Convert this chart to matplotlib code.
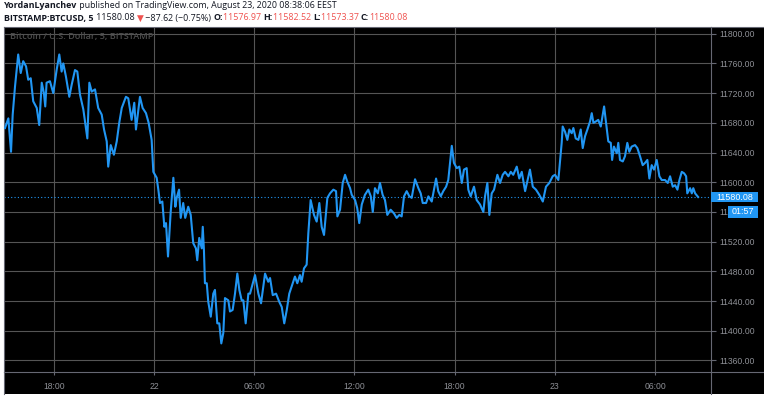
import matplotlib
matplotlib.use('Agg')
import matplotlib.pyplot as plt
from matplotlib.patches import Rectangle
from matplotlib.lines import Line2D
from matplotlib.transforms import blended_transform_factory

# BTCUSD 5-minute close, hours relative to Aug 22 00:00 (EEST)
hours = [-8.92, -8.72, -8.56, -8.46, -8.32, -8.13, -7.98, -7.83, -7.66, -7.53,
         -7.38, -7.23, -7.02, -6.87, -6.72, -6.59, -6.51, -6.43, -6.23, -6.03,
         -5.83, -5.67, -5.53, -5.43, -5.27, -5.07, -4.93, -4.73, -4.59, -4.43,
         -4.23, -3.99, -3.87, -3.73, -3.53, -3.34, -3.13, -2.99, -2.83, -2.74,
         -2.59, -2.40, -2.23, -2.08, -1.93, -1.68, -1.54, -1.34, -1.18, -1.08,
         -0.84, -0.68, -0.48, -0.32, -0.14, -0.04, 0.16, 0.26, 0.36, 0.50,
         0.62, 0.72, 0.84, 1.00, 1.16, 1.28, 1.36, 1.50, 1.60, 1.75,
         1.87, 2.05, 2.20, 2.35, 2.51, 2.59, 2.71, 2.86, 2.92, 2.99,
         3.05, 3.16, 3.25, 3.40, 3.55, 3.65, 3.79, 3.91, 4.03, 4.15,
         4.25, 4.45, 4.55, 4.71, 4.85, 4.99, 5.11, 5.25, 5.35, 5.49,
         5.65, 5.75, 6.05, 6.25, 6.41, 6.65, 6.84, 6.95, 7.11, 7.31,
         7.50, 7.65, 7.80, 7.95, 8.10, 8.31, 8.44, 8.58, 8.74, 8.84,
         8.98, 9.14, 9.24, 9.38, 9.58, 9.74, 9.90, 10.04, 10.18, 10.38,
         10.54, 10.74, 10.90, 10.98, 11.14, 11.30, 11.44, 11.57, 11.74, 11.84,
         12.04, 12.17, 12.29, 12.44, 12.63, 12.83, 12.98, 13.10, 13.23, 13.40,
         13.53, 13.69, 13.83, 13.97, 14.17, 14.37, 14.53, 14.69, 14.83, 14.97,
         15.13, 15.29, 15.43, 15.63, 15.83, 15.97, 16.09, 16.29, 16.43, 16.63,
         16.72, 16.89, 17.02, 17.17, 17.32, 17.49, 17.62, 17.83, 17.96, 18.13,
         18.28, 18.43, 18.56, 18.72, 18.82, 18.96, 19.16, 19.32, 19.52, 19.72,
         19.82, 19.96, 20.08, 20.22, 20.36, 20.56, 20.72, 20.88, 21.02, 21.22,
         21.36, 21.51, 21.72, 21.87, 22.02, 22.22, 22.35, 22.51, 22.68, 22.87,
         23.07, 23.28, 23.47, 23.67, 23.87, 24.01, 24.21, 24.31, 24.41, 24.47,
         24.61, 24.75, 24.87, 25.01, 25.11, 25.25, 25.41, 25.55, 25.67, 25.81,
         25.95, 26.11, 26.21, 26.31, 26.47, 26.60, 26.75, 26.95, 27.07, 27.20,
         27.35, 27.43, 27.54, 27.71, 27.80, 27.90, 28.07, 28.20, 28.34, 28.46,
         28.60, 28.80, 28.94, 29.10, 29.26, 29.40, 29.54, 29.66, 29.80, 29.94,
         30.10, 30.26, 30.40, 30.60, 30.76, 30.90, 31.06, 31.20, 31.34, 31.46,
         31.60, 31.74, 31.86, 31.93, 32.10, 32.20, 32.29, 32.40, 32.58]
prices = [11673, 11686, 11641, 11691, 11729, 11772, 11747, 11763, 11756, 11738,
          11740, 11709, 11700, 11677, 11734, 11720, 11702, 11734, 11736, 11720,
          11751, 11772, 11749, 11760, 11742, 11715, 11731, 11751, 11749, 11718,
          11698, 11659, 11734, 11722, 11725, 11700, 11691, 11671, 11655, 11621,
          11650, 11637, 11655, 11680, 11700, 11715, 11713, 11684, 11707, 11671,
          11715, 11700, 11693, 11680, 11657, 11614, 11606, 11590, 11572, 11574,
          11540, 11545, 11500, 11560, 11606, 11567, 11579, 11590, 11552, 11572,
          11552, 11567, 11556, 11518, 11511, 11495, 11525, 11511, 11540, 11509,
          11464, 11464, 11439, 11419, 11450, 11455, 11410, 11410, 11383, 11397,
          11444, 11441, 11426, 11428, 11450, 11477, 11455, 11441, 11441, 11410,
          11450, 11450, 11475, 11450, 11437, 11477, 11466, 11471, 11448, 11450,
          11439, 11432, 11410, 11428, 11450, 11464, 11473, 11464, 11475, 11466,
          11484, 11489, 11531, 11576, 11556, 11547, 11572, 11540, 11529, 11579,
          11585, 11590, 11588, 11554, 11563, 11599, 11610, 11601, 11592, 11583,
          11576, 11565, 11545, 11570, 11583, 11590, 11581, 11560, 11592, 11585,
          11599, 11583, 11576, 11556, 11563, 11558, 11552, 11556, 11554, 11581,
          11588, 11581, 11579, 11604, 11592, 11585, 11572, 11572, 11581, 11574,
          11585, 11605, 11588, 11581, 11588, 11594, 11603, 11649, 11626, 11619,
          11621, 11599, 11617, 11619, 11590, 11581, 11594, 11576, 11570, 11560,
          11581, 11599, 11556, 11585, 11590, 11610, 11599, 11610, 11614, 11608,
          11614, 11610, 11621, 11605, 11614, 11588, 11601, 11617, 11594, 11590,
          11583, 11574, 11594, 11599, 11608, 11610, 11603, 11628, 11653, 11675,
          11668, 11657, 11671, 11666, 11673, 11659, 11657, 11671, 11646, 11662,
          11671, 11682, 11693, 11680, 11682, 11684, 11675, 11702, 11680, 11655,
          11653, 11630, 11648, 11639, 11653, 11630, 11628, 11635, 11653, 11641,
          11648, 11650, 11646, 11635, 11623, 11626, 11630, 11605, 11623, 11617,
          11630, 11608, 11603, 11603, 11599, 11608, 11594, 11596, 11590, 11603,
          11614, 11612, 11608, 11585, 11592, 11585, 11592, 11585, 11580.08]

last_price = 11580.08
countdown = '01:57'
x_ticks = [-6, 0, 6, 12, 18, 24, 30]
x_labels = ['18:00', '22', '06:00', '12:00', '18:00', '23', '06:00']
y_ticks = list(range(11360, 11801, 40))

title_line = [('YordanLyanchev', '#131722', 'bold'),
              (' published on TradingView.com, August 23, 2020 08:38:06 EEST', '#131722', 'normal')]
quote_line = [('BITSTAMP:BTCUSD, 5', '#131722', 'bold'),
              (' 11580.08 ', '#131722', 'normal'),
              ('\u25bc', '#ef5350', 'normal'),
              (' \u221287.62 (\u22120.75%) ', '#131722', 'normal'),
              ('O:', '#131722', 'bold'), ('11576.97 ', '#ef5350', 'normal'),
              ('H:', '#131722', 'bold'), ('11582.52 ', '#ef5350', 'normal'),
              ('L:', '#131722', 'bold'), ('11573.37 ', '#ef5350', 'normal'),
              ('C:', '#131722', 'bold'), ('11580.08', '#ef5350', 'normal')]

W, H = 764, 396
PL, PR, PT, PB = 4, 711, 27, 372   # plot area in pixels
PANEL_BOTTOM = 394

blue = '#2196f3'
grid_c = '#555555'
sep_c = '#666873'
lab_c = '#8e9096'

fig = plt.figure(figsize=(W / 100, H / 100), dpi=100, facecolor='white')
fig.patches.append(Rectangle((PL / W, (H - PANEL_BOTTOM) / H), 1 - PL / W,
                             (PANEL_BOTTOM - PT) / H, transform=fig.transFigure,
                             facecolor='black', edgecolor='none', zorder=-5))

ax = fig.add_axes([PL / W, (H - PB) / H, (PR - PL) / W, (PB - PT) / H])
ax.set_facecolor('black')
ax.plot(hours, prices, color=blue, lw=1.5, solid_joinstyle='round', zorder=3)
ax.axhline(last_price, color=blue, lw=0.8, ls=(0, (1, 2)), zorder=2)

ax.set_xlim(-8.98, 33.35)
ax.set_ylim(11344.5, 11809)
ax.set_xticks(x_ticks)
ax.set_xticklabels(x_labels)
ax.set_yticks(y_ticks)
ax.set_yticklabels(['%.2f' % v for v in y_ticks])
ax.yaxis.tick_right()
ax.grid(True, color=grid_c, lw=0.8)
ax.tick_params(axis='y', colors=sep_c, labelcolor=lab_c, length=3.5, width=0.8, pad=2.5,
               labelsize=6.2)
ax.tick_params(axis='x', colors=sep_c, labelcolor=lab_c, length=2.5, width=0.8, pad=5,
               labelsize=6.2)
for lab in ax.get_xticklabels() + ax.get_yticklabels():
    lab.set_fontfamily('Liberation Sans')
for side in ['left', 'top', 'right', 'bottom']:
    ax.spines[side].set_color(sep_c)
    ax.spines[side].set_linewidth(0.8)

# separators extending into the axis strips
fig.add_artist(Line2D([PR / W, PR / W], [(H - PANEL_BOTTOM) / H, (H - PB) / H],
                      color=sep_c, lw=0.8, transform=fig.transFigure))
fig.add_artist(Line2D([PR / W, 1], [(H - PB) / H, (H - PB) / H],
                      color=sep_c, lw=0.8, transform=fig.transFigure))
fig.add_artist(Line2D([PR / W, 1], [(H - PT) / H, (H - PT) / H],
                      color=sep_c, lw=0.8, transform=fig.transFigure))
fig.add_artist(Line2D([PL / W, PL / W], [(H - PANEL_BOTTOM) / H, (H - PB) / H],
                      color=sep_c, lw=0.8, transform=fig.transFigure))

ax.text(0.009, 0.985, 'Bitcoin / U.S. Dollar, 5, BITSTAMP', transform=ax.transAxes,
        color='#4d4d4d', fontsize=6.6, fontweight='semibold', fontfamily='Open Sans',
        ha='left', va='top')

# last price and countdown labels on the price scale
trans = blended_transform_factory(ax.transAxes, ax.transData)
ax.add_patch(Rectangle((1.0, last_price - 7.2), 0.0665, 14.4, transform=trans,
                       facecolor=blue, edgecolor='none', clip_on=False, zorder=6))
ax.text(1.034, last_price, '%.2f' % last_price, transform=trans, color='white',
        fontsize=6.4, fontfamily='Liberation Sans', ha='center', va='center',
        clip_on=False, zorder=7)
ax.add_patch(Rectangle((1.024, last_price - 28.1), 0.0425, 16.2, transform=trans,
                       facecolor=blue, edgecolor='none', clip_on=False, zorder=6))
ax.text(1.0455, last_price - 20.0, countdown, transform=trans, color='white',
        fontsize=6.4, fontfamily='Liberation Sans', ha='center', va='center',
        clip_on=False, zorder=7)

# header lines
renderer = fig.canvas.get_renderer()


def write_line(pieces, x_px, y_px, size):
    x = x_px / W
    for text, color, weight in pieces:
        t = fig.text(x, 1 - y_px / H, text, color=color, fontweight=weight,
                     fontsize=size, family=['Open Sans', 'DejaVu Sans'],
                     ha='left', va='center')
        x += t.get_window_extent(renderer).width / W


write_line(title_line, 4, 6, 6.4)
write_line(quote_line, 4, 18, 6.4)

fig.savefig('out.png', dpi=100, facecolor='white')
